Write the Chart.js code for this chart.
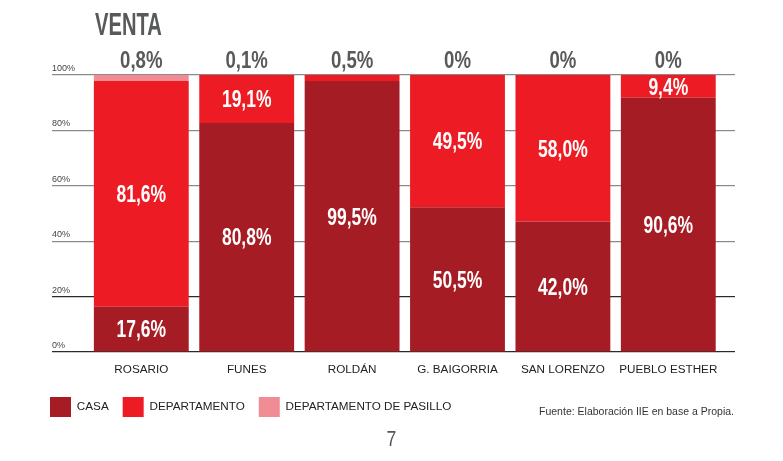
<!DOCTYPE html>
<html>
<head>
<meta charset="utf-8">
<script src="https://cdn.jsdelivr.net/npm/chart.js@4.4.0/dist/chart.umd.min.js"></script>
<style>
  body { margin: 0; background: #fff; }
  #wrap { position: relative; width: 783px; height: 461px; overflow: hidden; }
  #titulo {
    position: absolute; left: 95px; top: 8px; margin: 0;
    font: bold 32px/32px 'Liberation Sans', sans-serif;
    color: #58595b; transform: scaleX(0.63); transform-origin: left top;
  }
  #fuente {
    position: absolute; right: 49px; top: 405px;
    font: 10.5px 'Liberation Sans', sans-serif; color: #333;
  }
  #pagina {
    position: absolute; left: 0; width: 783px; top: 426px; text-align: center;
    font: 22px 'Liberation Sans', sans-serif; color: #555;
    transform: scaleX(0.8);
  }
</style>
</head>
<body>
<div id="wrap">
  <canvas id="myChart"></canvas>
  <div id="titulo">VENTA</div>
  <div id="fuente">Fuente: Elaboración IIE en base a Propia.</div>
  <div id="pagina">7</div>
</div>
<script>
// datos
const localidades = ['ROSARIO', 'FUNES', 'ROLDÁN', 'G. BAIGORRIA', 'SAN LORENZO', 'PUEBLO ESTHER'];
const casa = [16.3, 82.7, 97.8, 52.3, 47.1, 91.8];
const departamento = [81.5, 17.3, 2.2, 47.7, 52.9, 8.2];
const pasillo = [2.2, 0, 0, 0, 0, 0];

// etiquetas que muestra el grafico
const casaTxt = ['17,6%', '80,8%', '99,5%', '50,5%', '42,0%', '90,6%'];
const deptoTxt = ['81,6%', '19,1%', '', '49,5%', '58,0%', '9,4%'];
const arribaTxt = ['0,8%', '0,1%', '0,5%', '0%', '0%', '0%'];
const ticksY = ['0%', '20%', '40%', '60%', '80%', '100%'];

Chart.defaults.font.family = "'Liberation Sans', sans-serif";

const etiquetas = {
  id: 'etiquetas',
  afterDatasetsDraw(chart) {
    const ctx = chart.ctx;
    const escribir = (txt, x, base, color) => {
      ctx.save();
      ctx.translate(x, base);
      ctx.scale(0.76, 1);
      ctx.fillStyle = color;
      ctx.textAlign = 'center';
      ctx.textBaseline = 'alphabetic';
      ctx.fillText(txt, 0, 0);
      ctx.restore();
    };
    ctx.font = "bold 23px 'Liberation Sans', sans-serif";
    [[0, casaTxt], [1, deptoTxt]].forEach(([i, textos]) => {
      chart.getDatasetMeta(i).data.forEach((bar, j) => {
        if (!textos[j]) return;
        const mid = (bar.y + bar.base) / 2;
        escribir(textos[j], bar.x, mid + 8.3, '#fff');
      });
    });
    ctx.font = "bold 24.5px 'Liberation Sans', sans-serif";
    chart.getDatasetMeta(0).data.forEach((bar, j) => {
      escribir(arribaTxt[j], bar.x, 68.3, '#58595b');
    });
  }
};

const colorGrilla = (c) => (c.tick && c.tick.value <= 20 ? '#2b2b2b' : '#8a8a8a');

let myChart = new Chart(document.getElementById('myChart'), {
  type: 'bar',
  data: {
    labels: localidades,
    datasets: [
      { label: 'CASA', data: casa, backgroundColor: '#a61c24', borderWidth: 0 },
      { label: 'DEPARTAMENTO', data: departamento, backgroundColor: '#ed1c24', borderWidth: 0 },
      { label: 'DEPARTAMENTO DE PASILLO', data: pasillo, backgroundColor: '#f28c94', borderWidth: 0 }
    ]
  },
  options: {
    responsive: true,
    maintainAspectRatio: false,
    animation: false,
    layout: { padding: { left: 36, right: 48, top: 75, bottom: 34 } },
    datasets: { bar: { categoryPercentage: 1, barPercentage: 0.9 } },
    scales: {
      x: {
        stacked: true,
        grid: { display: false, drawTicks: false },
        border: { display: false },
        ticks: { color: '#222', font: { size: 11.7 }, padding: 10.5, maxRotation: 0, autoSkip: false },
        afterFit(s) { s.height = 31; }
      },
      y: {
        stacked: true,
        min: 0, max: 100,
        ticks: {
          stepSize: 20, mirror: true, padding: -36.6, labelOffset: -6.4,
          color: '#444', font: { size: 9 },
          callback: (v, i) => ticksY[i]
        },
        grid: { color: colorGrilla, lineWidth: 1.2, tickLength: 36.6 },
        border: { display: false },
        afterFit(s) { s.width = 52.6; }
      },
      y2: {
        position: 'right',
        min: 0, max: 100,
        ticks: { stepSize: 20, display: false },
        grid: { color: colorGrilla, lineWidth: 1.2, tickLength: 14, drawOnChartArea: false },
        border: { display: false },
        afterFit(s) { s.width = 14; }
      }
    },
    plugins: {
      legend: {
        position: 'bottom',
        align: 'start',
        labels: { boxWidth: 21, boxHeight: 20, padding: 14, color: '#222', font: { size: 11.7 } }
      },
      tooltip: { enabled: false }
    }
  },
  plugins: [etiquetas]
});
</script>
</body>
</html>
